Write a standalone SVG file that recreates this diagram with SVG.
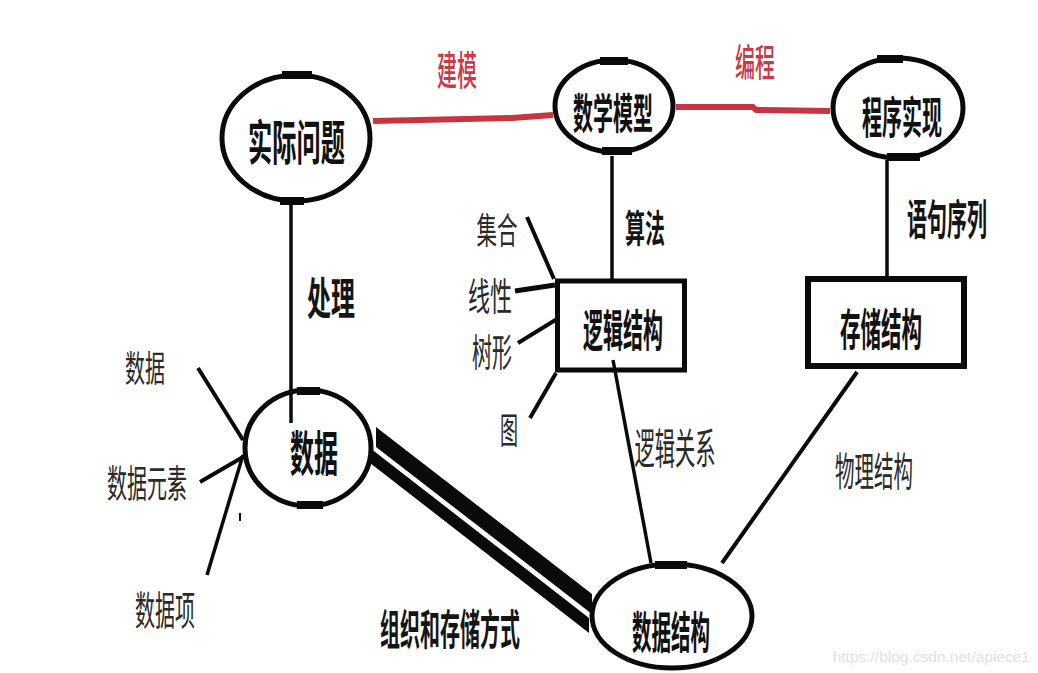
<svg xmlns="http://www.w3.org/2000/svg" width="1038" height="673" viewBox="0 0 1038 673">
<style>
.bg{fill:#ffffff}
.node{fill:none;stroke:#0a0a0a;stroke-width:5}
.thk{fill:#0a0a0a}
.ln{stroke:#0a0a0a;stroke-width:3.5;fill:none;stroke-linecap:butt}
.red{stroke:#c8343f;stroke-width:6;fill:none;stroke-linejoin:round}
.t{font-family:"Noto Sans CJK SC","Noto Sans CJK JP",sans-serif;text-anchor:middle;dominant-baseline:central;fill:#1a1a1a}
.nb{font-weight:700;fill:#111}
.eb{font-weight:600;fill:#151515}
.sl{font-weight:400;fill:#2a2a2a}
.rt{font-weight:500;fill:#cc3a48}
.band{fill:#0a0a0a}
</style>
<rect class="bg" x="0" y="0" width="1038" height="673"/>
<g id="connectors">
  <polyline class="red" points="373,121 420,120 512,118 553,115"/>
  <polyline class="red" points="676,107 753,107 756,110 830,111"/>
  <line class="ln" x1="291" y1="203" x2="291" y2="423"/>
  <line class="ln" x1="612" y1="156" x2="612" y2="279"/>
  <line class="ln" x1="887" y1="160" x2="887" y2="276"/>
  <line class="ln" x1="613" y1="360" x2="651" y2="563"/>
  <line class="ln" x1="857" y1="372" x2="722" y2="563" style="stroke-width:4"/>
  <line class="ln" x1="527" y1="217" x2="554" y2="279" style="stroke-width:4"/>
  <line class="ln" x1="515" y1="291" x2="555" y2="285" style="stroke-width:5"/>
  <line class="ln" x1="518" y1="343" x2="557" y2="319" style="stroke-width:4"/>
  <line class="ln" x1="530" y1="418" x2="556" y2="373" style="stroke-width:4"/>
  <line class="ln" x1="198" y1="368" x2="243" y2="440" style="stroke-width:4"/>
  <line class="ln" x1="200" y1="482" x2="243" y2="457" style="stroke-width:4"/>
  <line class="ln" x1="243" y1="455" x2="207" y2="575" style="stroke-width:3.5"/>
  <line class="ln" x1="240" y1="513" x2="240" y2="521" style="stroke-width:2"/>
  <polygon class="band" points="376,427 592,594 592,614 376,447"/>
  <polygon class="band" points="370,448 589,618 589,633 370,463"/>
  <text class="t rt" transform="translate(457,67) scale(0.5,1)" font-size="40">建模</text>
  <text class="t rt" transform="translate(755,60) scale(0.526,1)" font-size="38">编程</text>
  <text class="t eb" transform="translate(645,226) scale(0.526,1)" font-size="38">算法</text>
  <text class="t eb" transform="translate(947,216) scale(0.476,1)" font-size="42">语句序列</text>
  <text class="t eb" transform="translate(331,296) scale(0.545,1)" font-size="44">处理</text>
  <text class="t sl" transform="translate(675,446) scale(0.482,1)" font-size="42">逻辑关系</text>
  <text class="t sl" transform="translate(874,468) scale(0.488,1)" font-size="40">物理结构</text>
  <text class="t eb" transform="translate(450,626) scale(0.476,1)" font-size="42">组织和存储方式</text>
  <text class="t sl" transform="translate(497,228) scale(0.57,1)" font-size="36">集合</text>
  <text class="t sl" transform="translate(490,293) scale(0.58,1)" font-size="38">线性</text>
  <text class="t sl" transform="translate(492,350) scale(0.526,1)" font-size="38">树形</text>
  <text class="t sl" transform="translate(509,428) scale(0.5,1)" font-size="36">图</text>
  <text class="t sl" transform="translate(145,366) scale(0.556,1)" font-size="36">数据</text>
  <text class="t sl" transform="translate(147,481) scale(0.526,1)" font-size="38">数据元素</text>
  <text class="t sl" transform="translate(165,607) scale(0.5,1)" font-size="40">数据项</text>
</g>
<g id="node-shijiwenti">
  <ellipse class="node" cx="296" cy="138" rx="74" ry="63"/>
  <rect class="thk" x="282" y="71" width="30" height="8"/>
  <rect class="thk" x="280" y="197" width="24" height="8"/>
  <text class="t nb" transform="translate(296.5,139) scale(0.505,1)" font-size="48">实际问题</text>
</g>
<g id="node-shuxuemoxing">
  <ellipse class="node" cx="614" cy="106" rx="59" ry="46"/>
  <rect class="thk" x="600" y="57" width="28" height="8"/>
  <rect class="thk" x="602" y="147" width="30" height="8"/>
  <text class="t nb" transform="translate(613,110) scale(0.476,1)" font-size="42">数学模型</text>
</g>
<g id="node-chengxushixian">
  <ellipse class="node" cx="898" cy="108" rx="65" ry="50"/>
  <rect class="thk" x="877" y="55" width="26" height="8"/>
  <rect class="thk" x="887" y="153" width="33" height="8"/>
  <text class="t nb" transform="translate(902,115) scale(0.455,1)" font-size="44">程序实现</text>
</g>
<g id="node-luojijiegou">
  <rect class="node" x="557.5" y="281" width="127" height="89"/>
  <text class="t nb" transform="translate(623,328) scale(0.455,1)" font-size="44">逻辑结构</text>
</g>
<g id="node-cunchujiegou">
  <rect class="node" x="808" y="279" width="156" height="87" style="stroke-width:6"/>
  <text class="t nb" transform="translate(881,327) scale(0.466,1)" font-size="44">存储结构</text>
</g>
<g id="node-shuju">
  <ellipse class="node" cx="308" cy="448" rx="63" ry="58"/>
  <rect class="thk" x="297" y="387" width="23" height="8"/>
  <rect class="thk" x="297" y="501" width="26" height="8"/>
  <text class="t nb" transform="translate(314,450) scale(0.5,1)" font-size="48">数据</text>
</g>
<g id="node-shujujiegou">
  <ellipse class="node" cx="672" cy="616" rx="80" ry="52"/>
  <rect class="thk" x="655" y="561" width="32" height="8"/>
  <text class="t nb" transform="translate(671,630) scale(0.443,1)" font-size="44">数据结构</text>
</g>
<text x="1030" y="656" font-family="Liberation Sans, Arial, sans-serif" font-size="15.5" fill="#e2e2e2" text-anchor="end" dominant-baseline="central">https://blog.csdn.net/apiece1</text>
</svg>
